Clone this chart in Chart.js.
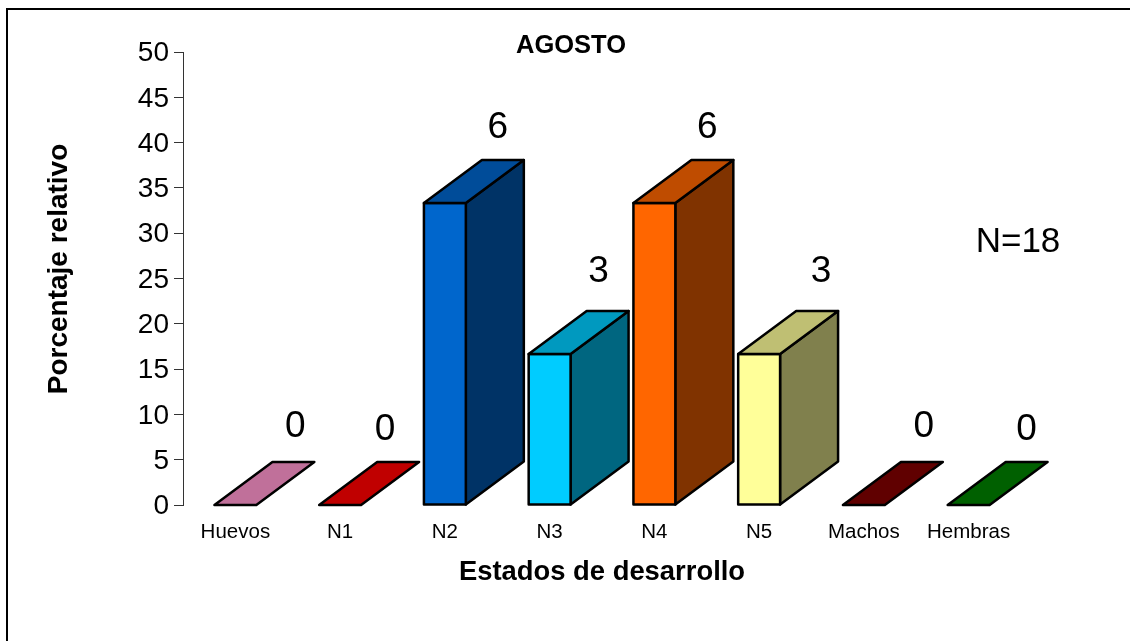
<!DOCTYPE html>
<html>
<head>
<meta charset="utf-8">
<title>AGOSTO</title>
<script src="https://cdn.jsdelivr.net/npm/chart.js@4"></script>
<style>
  html, body { margin: 0; padding: 0; background: #fff; }
  canvas { display: block; }
</style>
</head>
<body>
<canvas id="myChart" width="1130" height="641"></canvas>
<script>
// values
const estados = ['Huevos', 'N1', 'N2', 'N3', 'N4', 'N5', 'Machos', 'Hembras']
const porcentaje = [0, 0, 33.33, 16.67, 33.33, 16.67, 0, 0]
const conteo = [0, 0, 6, 3, 6, 3, 0, 0]
const yTicks = [0, 5, 10, 15, 20, 25, 30, 35, 40, 45, 50]

// colours of the three faces
const colorFrente = ['#FF99CC', '#FF0000', '#0066CC', '#00CCFF', '#FF6600', '#FFFF99', '#800000', '#008000']
const colorTecho = ['#C0709A', '#C00000', '#004C99', '#0099BF', '#BF4C00', '#BFBF73', '#600000', '#006000']
const colorLado = ['#804D66', '#800000', '#003366', '#006680', '#803300', '#80804D', '#400000', '#004000']

// the counts sit at hand-placed spots in the original
const labelDx = [60, 45, 53, 49, 53, 62, 60, 58]
const labelDy = [-78, -75, -75, -82, -75, -82, -78, -75]

const fuente = 'Liberation Sans, Arial, sans-serif'
const fondoX = 58
const fondoY = 43

function poly(ctx, pts, fill) {
  ctx.beginPath()
  pts.forEach((p, i) => i ? ctx.lineTo(p[0], p[1]) : ctx.moveTo(p[0], p[1]))
  ctx.closePath()
  ctx.fillStyle = fill
  ctx.fill()
  ctx.stroke()
}

function texto(ctx, str, x, y, font) {
  ctx.font = font
  ctx.fillStyle = '#000'
  ctx.textAlign = 'center'
  ctx.textBaseline = 'middle'
  ctx.fillText(str, x, y)
}

const barras3d = {
  id: 'barras3d',
  beforeDraw(chart) {
    // frame: only top and left edges show in the picture
    const ctx = chart.ctx
    ctx.save()
    ctx.strokeStyle = '#000'
    ctx.lineWidth = 2
    ctx.beginPath()
    ctx.moveTo(7, 641)
    ctx.lineTo(7, 9)
    ctx.lineTo(1130, 9)
    ctx.stroke()
    ctx.restore()
  },
  afterDatasetsDraw(chart) {
    const ctx = chart.ctx
    const meta = chart.getDatasetMeta(0)
    ctx.save()
    ctx.strokeStyle = '#000'
    ctx.lineWidth = 2.5
    ctx.lineJoin = 'round'
    meta.data.forEach((bar, i) => {
      const l = bar.x - bar.width / 2
      const r = bar.x + bar.width / 2
      const t = bar.y
      const b = bar.base
      if (b - t > 1) {
        poly(ctx, [[r, t], [r + fondoX, t - fondoY], [r + fondoX, b - fondoY], [r, b]], colorLado[i])
        poly(ctx, [[l, t], [r, t], [r, b], [l, b]], colorFrente[i])
      }
      poly(ctx, [[l, t], [l + fondoX, t - fondoY], [r + fondoX, t - fondoY], [r, t]], colorTecho[i])
      texto(ctx, String(conteo[i]), bar.x + labelDx[i], t + labelDy[i], '37px ' + fuente)
    })
    // texts that sit off the axis centres
    texto(ctx, 'AGOSTO', 571, 46, 'bold 25.5px ' + fuente)
    texto(ctx, 'N=18', 1018, 242, '35px ' + fuente)
    ctx.translate(59, 269)
    ctx.rotate(-Math.PI / 2)
    texto(ctx, 'Porcentaje relativo', 0, 0, 'bold 28px ' + fuente)
    ctx.restore()
  }
}

const ctx = document.getElementById('myChart').getContext('2d')
const myChart = new Chart(ctx, {
  type: 'bar',
  data: {
    labels: estados,
    datasets: [{
      label: 'Porcentaje relativo',
      data: porcentaje,
      backgroundColor: colorFrente,
      borderWidth: 0,
      categoryPercentage: 1,
      barPercentage: 0.4
    }]
  },
  plugins: [barras3d],
  options: {
    responsive: false,
    animation: false,
    layout: { padding: { left: 0, top: 52, right: 109, bottom: 0 } },
    plugins: { legend: { display: false }, tooltip: { enabled: false } },
    scales: {
      x: {
        grid: { display: false },
        border: { display: false },
        ticks: { color: '#000', font: { family: fuente, size: 20.5 }, padding: 7, maxRotation: 0, autoSkip: false },
        title: { display: true, text: 'Estados de desarrollo', color: '#000', font: { family: fuente, size: 27.4, weight: 'bold' }, padding: { top: 8, bottom: 52 } },
        afterFit(scale) { scale.height = 136 }
      },
      y: {
        min: 0,
        max: 50,
        afterBuildTicks(scale) { scale.ticks = yTicks.map(v => ({ value: v })) },
        grid: { drawOnChartArea: false, color: '#333', tickLength: 9 },
        border: { display: true, color: '#333', width: 1 },
        ticks: { color: '#000', font: { family: fuente, size: 28 }, padding: 5, labelOffset: 1.5 },
        afterFit(scale) { scale.width = 183 }
      }
    }
  }
})
</script>
</body>
</html>
